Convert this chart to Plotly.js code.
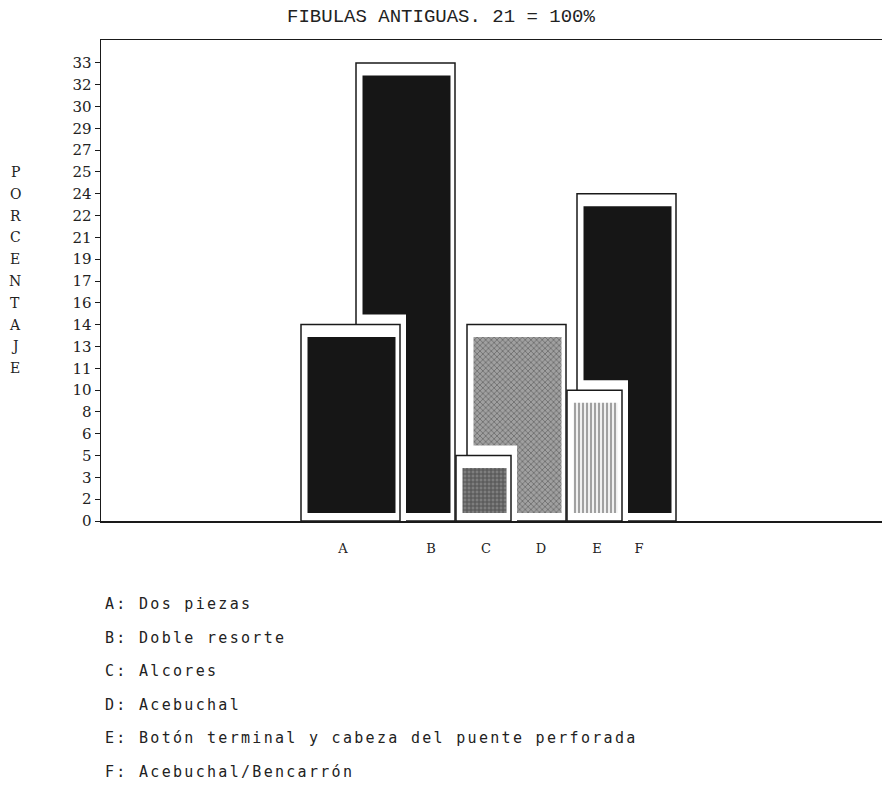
<!DOCTYPE html>
<html>
<head>
<meta charset="utf-8">
<script src="https://cdn.plot.ly/plotly-3.0.1.min.js"></script>
<style>
html,body{margin:0;padding:0;background:#fff;}
#chart{width:882px;height:786px;}
</style>
</head>
<body>
<div id="chart"></div>
<script>
// ---- DATA ----
const categories = ['A', 'B', 'C', 'D', 'E', 'F'];
const percentages = [14.29, 33.33, 4.76, 14.29, 9.52, 23.81];
const descriptions = [
  'Dos piezas',
  'Doble resorte',
  'Alcores',
  'Acebuchal',
  'Botón terminal y cabeza del puente perforada',
  'Acebuchal/Bencarrón'
];
const yTickVals = [0, 1.59, 3.17, 4.76, 6.35, 7.94, 9.52, 11.11, 12.70, 14.29, 15.87,
                   17.46, 19.05, 20.63, 22.22, 23.81, 25.40, 26.98, 28.57, 30.16, 31.75, 33.33];
const yTickText = ['0','2','3','5','6','8','10','11','13','14','16',
                   '17','19','21','22','24','25','27','29','30','32','33'];
const yTitleLetters = ['P','O','R','C','E','N','T','A','J','E'];
const titleText = 'FIBULAS ANTIGUAS. 21 = 100%';

// ---- LAYOUT (positions / styles) ----
const W = 882, H = 786;
const M = {l: 101, r: 0, t: 40, b: 265};
const PW = W - M.l - M.r, PH = H - M.t - M.b;
const Y_MAX = 35;
const pxPerUnit = PH / Y_MAX;
// bar geometry on a pixel-like x scale (0 = left edge of plot)
const barLeft  = [200, 255, 355, 366, 466, 476];
const barWidth = [99, 99, 55, 99, 55, 99];
const xLabelPos = [242, 330, 385, 440, 496, 538];
const pairs = [[0, 1], [2, 3], [4, 5]]; // [front, back]
const solid = {shape: ''};
const fills = [
  {color: '#161616', pattern: solid},
  {color: '#161616', pattern: solid},
  {color: '#5e5e5e', pattern: {shape: '+', fgcolor: '#262626', bgcolor: '#7e7e7e', size: 4, solidity: 0.45, fillmode: 'overlay'}},
  {color: '#8a8a8a', pattern: {shape: 'x', fgcolor: '#404040', bgcolor: '#a0a0a0', size: 4, solidity: 0.4, fillmode: 'overlay'}},
  {color: '#f2f2f2', pattern: {shape: '|', fgcolor: '#2a2a2a', bgcolor: '#f0f0f0', size: 4, solidity: 0.4, fillmode: 'overlay'}},
  {color: '#161616', pattern: solid}
];
const innerTopGap = 12.5 / pxPerUnit;
const innerBase = 8 / pxPerUnit;
const haloTop = 10 / pxPerUnit;

function outerTrace(i) {
  return {
    type: 'bar', x: [barLeft[i] + barWidth[i] / 2], y: [percentages[i]], base: [0],
    width: [barWidth[i]], hoverinfo: 'skip', showlegend: false,
    marker: {color: '#ffffff', line: {color: '#1a1a1a', width: 1.5}}
  };
}
function innerTrace(i) {
  const l = barLeft[i] + 6.5, r = barLeft[i] + barWidth[i] - 4.5;
  return {
    type: 'bar', x: [(l + r) / 2], y: [percentages[i] - innerTopGap - innerBase], base: [innerBase],
    width: [r - l], hoverinfo: 'skip', showlegend: false,
    marker: {color: fills[i].color, pattern: fills[i].pattern, line: {width: 0}}
  };
}
function haloTrace(front, back) {
  const l = barLeft[back] + 3, r = barLeft[front] + barWidth[front] + 6;
  return {
    type: 'bar', x: [(l + r) / 2], y: [percentages[front] + haloTop], base: [0],
    width: [r - l], hoverinfo: 'skip', showlegend: false,
    marker: {color: '#ffffff', line: {width: 0}}
  };
}

const traces = [];
pairs.forEach(([f, b]) => {
  traces.push(outerTrace(b));
  traces.push(innerTrace(b));
  traces.push(haloTrace(f, b));
  traces.push(outerTrace(f));
  traces.push(innerTrace(f));
});

const annotations = [];
// stacked vertical y-axis title, one letter per tick row
yTitleLetters.forEach((ch, k) => {
  annotations.push({
    text: ch, xref: 'paper', yref: 'y', x: (15 - M.l) / PW, y: yTickVals[16 - k],
    xanchor: 'center', yanchor: 'middle', showarrow: false,
    font: {family: 'DejaVu Serif', size: 14, color: '#222'}
  });
});
// key below the chart
categories.forEach((c, i) => {
  const ypx = 604 + i * 33.5;
  annotations.push({
    text: c + ': ' + descriptions[i], xref: 'paper', yref: 'paper',
    x: (103 - M.l) / PW, y: (M.t + PH - ypx) / PH,
    xanchor: 'left', yanchor: 'middle', align: 'left', showarrow: false,
    font: {family: 'DejaVu Sans Mono', size: 15, color: '#222'}
  });
});

const layout = {
  width: W, height: H,
  margin: M,
  paper_bgcolor: '#fff', plot_bgcolor: '#fff',
  barmode: 'overlay',
  showlegend: false,
  title: {
    text: titleText, x: 441 / W, xanchor: 'center', xref: 'container',
    y: 1 - 15 / H, yref: 'container', yanchor: 'middle',
    font: {family: 'Liberation Mono', size: 19, color: '#222'}
  },
  xaxis: {
    range: [0, PW], showgrid: false, zeroline: false,
    showline: true, linecolor: '#1a1a1a', linewidth: 1.5, mirror: true,
    tickmode: 'array', tickvals: xLabelPos, ticktext: categories,
    ticks: '', ticklabelstandoff: 15,
    tickfont: {family: 'DejaVu Serif', size: 13, color: '#222'},
    fixedrange: true
  },
  yaxis: {
    range: [0, Y_MAX], showgrid: false, zeroline: false,
    showline: true, linecolor: '#1a1a1a', linewidth: 1.5,
    tickmode: 'array', tickvals: yTickVals, ticktext: yTickText,
    ticks: 'outside', ticklen: 5, tickwidth: 1, tickcolor: '#1a1a1a',
    tickfont: {family: 'DejaVu Serif', size: 15, color: '#222'},
    fixedrange: true
  },
  annotations: annotations
};

Plotly.newPlot('chart', traces, layout, {displayModeBar: false, staticPlot: true}).then(gd => {
  gd.querySelectorAll('.annotation-text').forEach(t => {
    if (t.textContent.indexOf(': ') === 1) t.style.letterSpacing = '2.3px';
  });
});
</script>
</body>
</html>
